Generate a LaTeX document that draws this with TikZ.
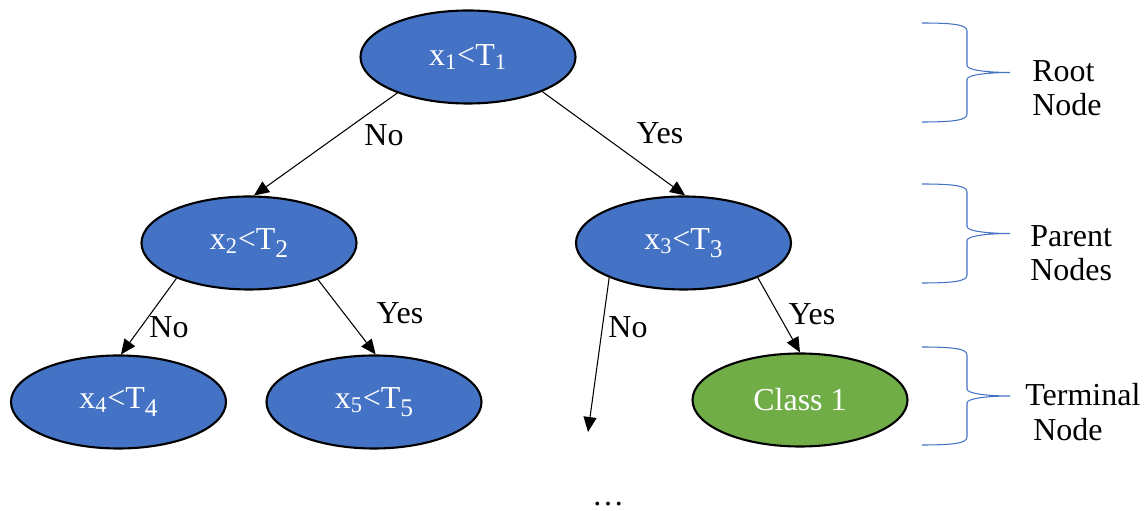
\documentclass[tikz,border=0pt]{standalone}
\usepackage{fontspec}
\setmainfont{Liberation Serif}
\usetikzlibrary{shapes.geometric, arrows.meta}
\definecolor{nodeblue}{RGB}{68, 114, 196}
\definecolor{leafgreen}{RGB}{112, 173, 71}
\newcommand{\tsub}[1]{\raisebox{-0.55ex}{\fontsize{14.5}{14.5}\selectfont #1}}
\tikzset{
    splitnode/.style={
        ellipse,
        draw=black,
        line width=1.2pt,
        fill=#1,
        minimum width=4.3cm,
        minimum height=1.86cm,
        inner sep=0pt,
        font=\fontsize{18.2}{19.5}\selectfont,
        text=white,
    },
    arrow/.style={
        -{Triangle[length=0.3cm, width=0.26cm]},
        line width=0.6pt,
        color=black,
    },
    label/.style={
        font=\fontsize{18.2}{19.5}\selectfont,
        text=black,
        inner sep=0pt,
    },
    levelbrace/.style={
        draw=nodeblue,
        line width=0.6pt,
    },
}

\begin{document}
\begin{tikzpicture}
\useasboundingbox (0,0) rectangle (22.88,10.22);

% ===== Tree nodes =====
\node[splitnode=nodeblue] (root) at (9.36, 9.08) {x\textsubscript{1}<T\textsubscript{1}};
\node[splitnode=nodeblue] (x2) at (4.98, 5.36) {x\textsubscript{2}<T\tsub{2}};
\node[splitnode=nodeblue] (x3) at (13.67, 5.36) {x\textsubscript{3}<T\tsub{3}};
\node[splitnode=nodeblue] (x4) at (2.37, 2.18) {x\textsubscript{4}<T\tsub{4}};
\node[splitnode=nodeblue] (x5) at (7.48, 2.18) {x\textsubscript{5}<T\tsub{5}};
\node[splitnode=leafgreen] (class1) at (16.0, 2.22) {Class 1};
\coordinate (more) at (11.76, 1.58);
\node[label, anchor=base] (dots) at (12.16, 0.1) {\dots};

% ===== Branches =====
\draw[arrow] (root.207) -- (x2.84);
\draw[arrow] (root.335) -- (x3.88);
\draw[arrow] (x2.206) -- (x4.87);
\draw[arrow] (x2.332) -- (x5.88);
\draw[arrow] (x3.205) -- (more);
\draw[arrow] (x3.335) -- (class1.north);

% branch labels
\node[label] (no1) at (7.68, 7.52) {No};
\node[label] (yes1) at (13.2, 7.56) {Yes};
\node[label] (no2) at (3.38, 3.68) {No};
\node[label] (yes2) at (8.0, 3.96) {Yes};
\node[label] (no3) at (12.56, 3.68) {No};
\node[label] (yes3) at (16.24, 3.94) {Yes};

% ===== Level braces =====
\draw[levelbrace] (18.44,9.76) .. controls +(0.66,0) and +(0,0.12) .. ++(0.9,-0.16) -- ++(0,-0.69) .. controls +(0,-0.1) and +(-0.4,0) .. ++(0.86,-0.14) .. controls +(-0.4,0) and +(0,0.1) .. ++(-0.86,-0.14) -- ++(0,-0.69) .. controls +(0,-0.12) and +(0.66,0) .. ++(-0.9,-0.16);
\draw[levelbrace] (18.44,6.54) .. controls +(0.66,0) and +(0,0.12) .. ++(0.9,-0.16) -- ++(0,-0.69) .. controls +(0,-0.1) and +(-0.4,0) .. ++(0.86,-0.14) .. controls +(-0.4,0) and +(0,0.1) .. ++(-0.86,-0.14) -- ++(0,-0.69) .. controls +(0,-0.12) and +(0.66,0) .. ++(-0.9,-0.16);
\draw[levelbrace] (18.44,3.28) .. controls +(0.66,0) and +(0,0.12) .. ++(0.9,-0.16) -- ++(0,-0.68) .. controls +(0,-0.1) and +(-0.4,0) .. ++(0.86,-0.14) .. controls +(-0.4,0) and +(0,0.1) .. ++(-0.86,-0.14) -- ++(0,-0.68) .. controls +(0,-0.12) and +(0.66,0) .. ++(-0.9,-0.16);

\node[label, anchor=west, align=left] (rootlbl) at (20.64, 8.46) {Root\\Node};
\node[label, anchor=west, align=left] (parentlbl) at (20.6, 5.16) {Parent\\Nodes};
\node[label, anchor=west, align=left] (termlbl) at (20.5, 1.98) {Terminal\\\hspace{0.16cm}Node};

\end{tikzpicture}
\end{document}
